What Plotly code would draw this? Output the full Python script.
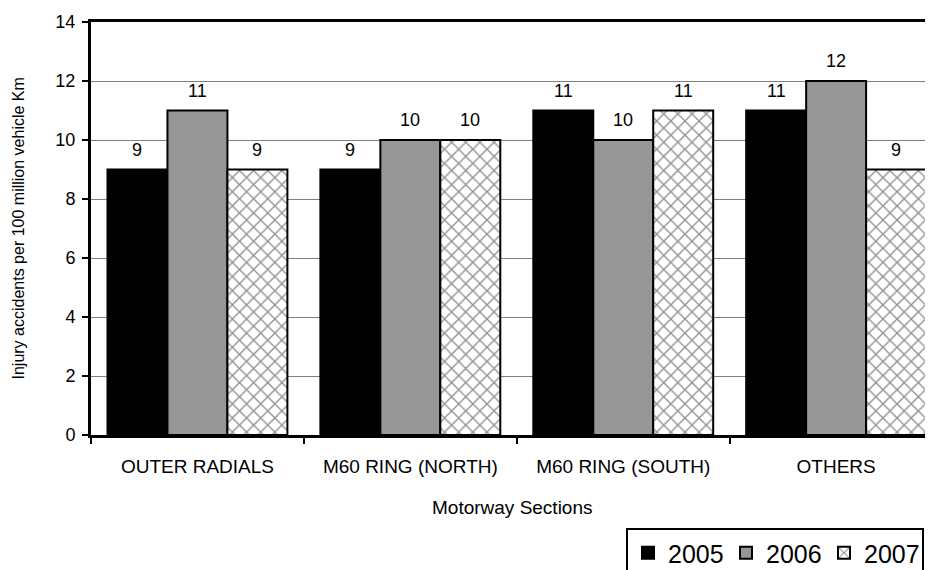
import plotly.graph_objects as go

categories = ["OUTER RADIALS", "M60 RING (NORTH)", "M60 RING (SOUTH)", "OTHERS"]
years = ["2005", "2006", "2007"]
values_2005 = [9, 9, 11, 11]
values_2006 = [11, 10, 10, 12]
values_2007 = [9, 10, 11, 9]
series = [values_2005, values_2006, values_2007]
y_ticks = [0, 2, 4, 6, 8, 10, 12, 14]

FONT = "Liberation Sans, Arial, sans-serif"
fills = ["#000000", "#969696", "#ffffff"]
patterns = [None, None, dict(shape="x", fgcolor="#222222", bgcolor="#ffffff", size=10, solidity=0.25)]

# page body has an 8px default margin; figure sized to fill the rest of the window
W, H = 925, 562

fig = go.Figure()
for name, vals, fc, pat in zip(years, series, fills, patterns):
    marker = dict(color=fc, line=dict(color="#000000", width=2))
    if pat:
        marker["pattern"] = pat
    fig.add_trace(go.Bar(x=categories, y=vals, name=name, marker=marker))

bargap = 0.155
bw = (1 - bargap) / 3
annotations = []
for i, vals in enumerate(series):
    off = (i - 1) * bw
    for j, v in enumerate(vals):
        annotations.append(dict(x=j + off, y=v, xref="x", yref="y", text=str(v),
                                showarrow=False, yshift=20, yanchor="middle",
                                font=dict(family=FONT, size=18, color="#000000")))

annotations.append(dict(text="Motorway Sections", xref="paper", yref="paper", x=0.5, y=0,
                        yshift=-72, yanchor="middle", xanchor="center", showarrow=False,
                        font=dict(family=FONT, size=19, color="#000000")))
annotations.append(dict(text="Injury accidents per 100 million vehicle Km", xref="paper",
                        yref="paper", x=0, y=0.5, xshift=-73, xanchor="center",
                        yanchor="middle", textangle=-90, showarrow=False,
                        font=dict(family=FONT, size=16, color="#000000")))

fig.update_layout(
    width=W, height=H,
    margin=dict(l=83, r=0, t=14, b=135, autoexpand=False),
    paper_bgcolor="white", plot_bgcolor="white",
    barmode="group", bargap=bargap, bargroupgap=0,
    font=dict(family=FONT, color="#000000"),
    annotations=annotations,
    showlegend=True,
    legend=dict(orientation="h", xref="container", yref="container",
                x=618 / W, y=1 - 520 / H, xanchor="left", yanchor="top",
                bordercolor="#000000", borderwidth=2, bgcolor="white",
                font=dict(family=FONT, size=25, color="#000000"),
                itemwidth=30, tracegroupgap=0, entrywidth=53, entrywidthmode="pixels"),
    xaxis=dict(range=[-0.5, 3.455], automargin=False, showline=True, linecolor="#000000",
               linewidth=3, mirror=True, ticks="outside", tickson="boundaries", ticklen=6,
               tickwidth=2, tickcolor="#000000", showgrid=False, ticklabelstandoff=12,
               tickfont=dict(family=FONT, size=19)),
    yaxis=dict(range=[0, 14], tickvals=y_ticks, automargin=False, showline=True,
               linecolor="#000000", linewidth=3, ticks="outside", ticklen=6, tickwidth=2,
               tickcolor="#000000", showgrid=True, gridcolor="#808080", gridwidth=1,
               zeroline=False, ticklabelstandoff=3,
               tickfont=dict(family=FONT, size=18)),
)

fig.write_html("out.html")
